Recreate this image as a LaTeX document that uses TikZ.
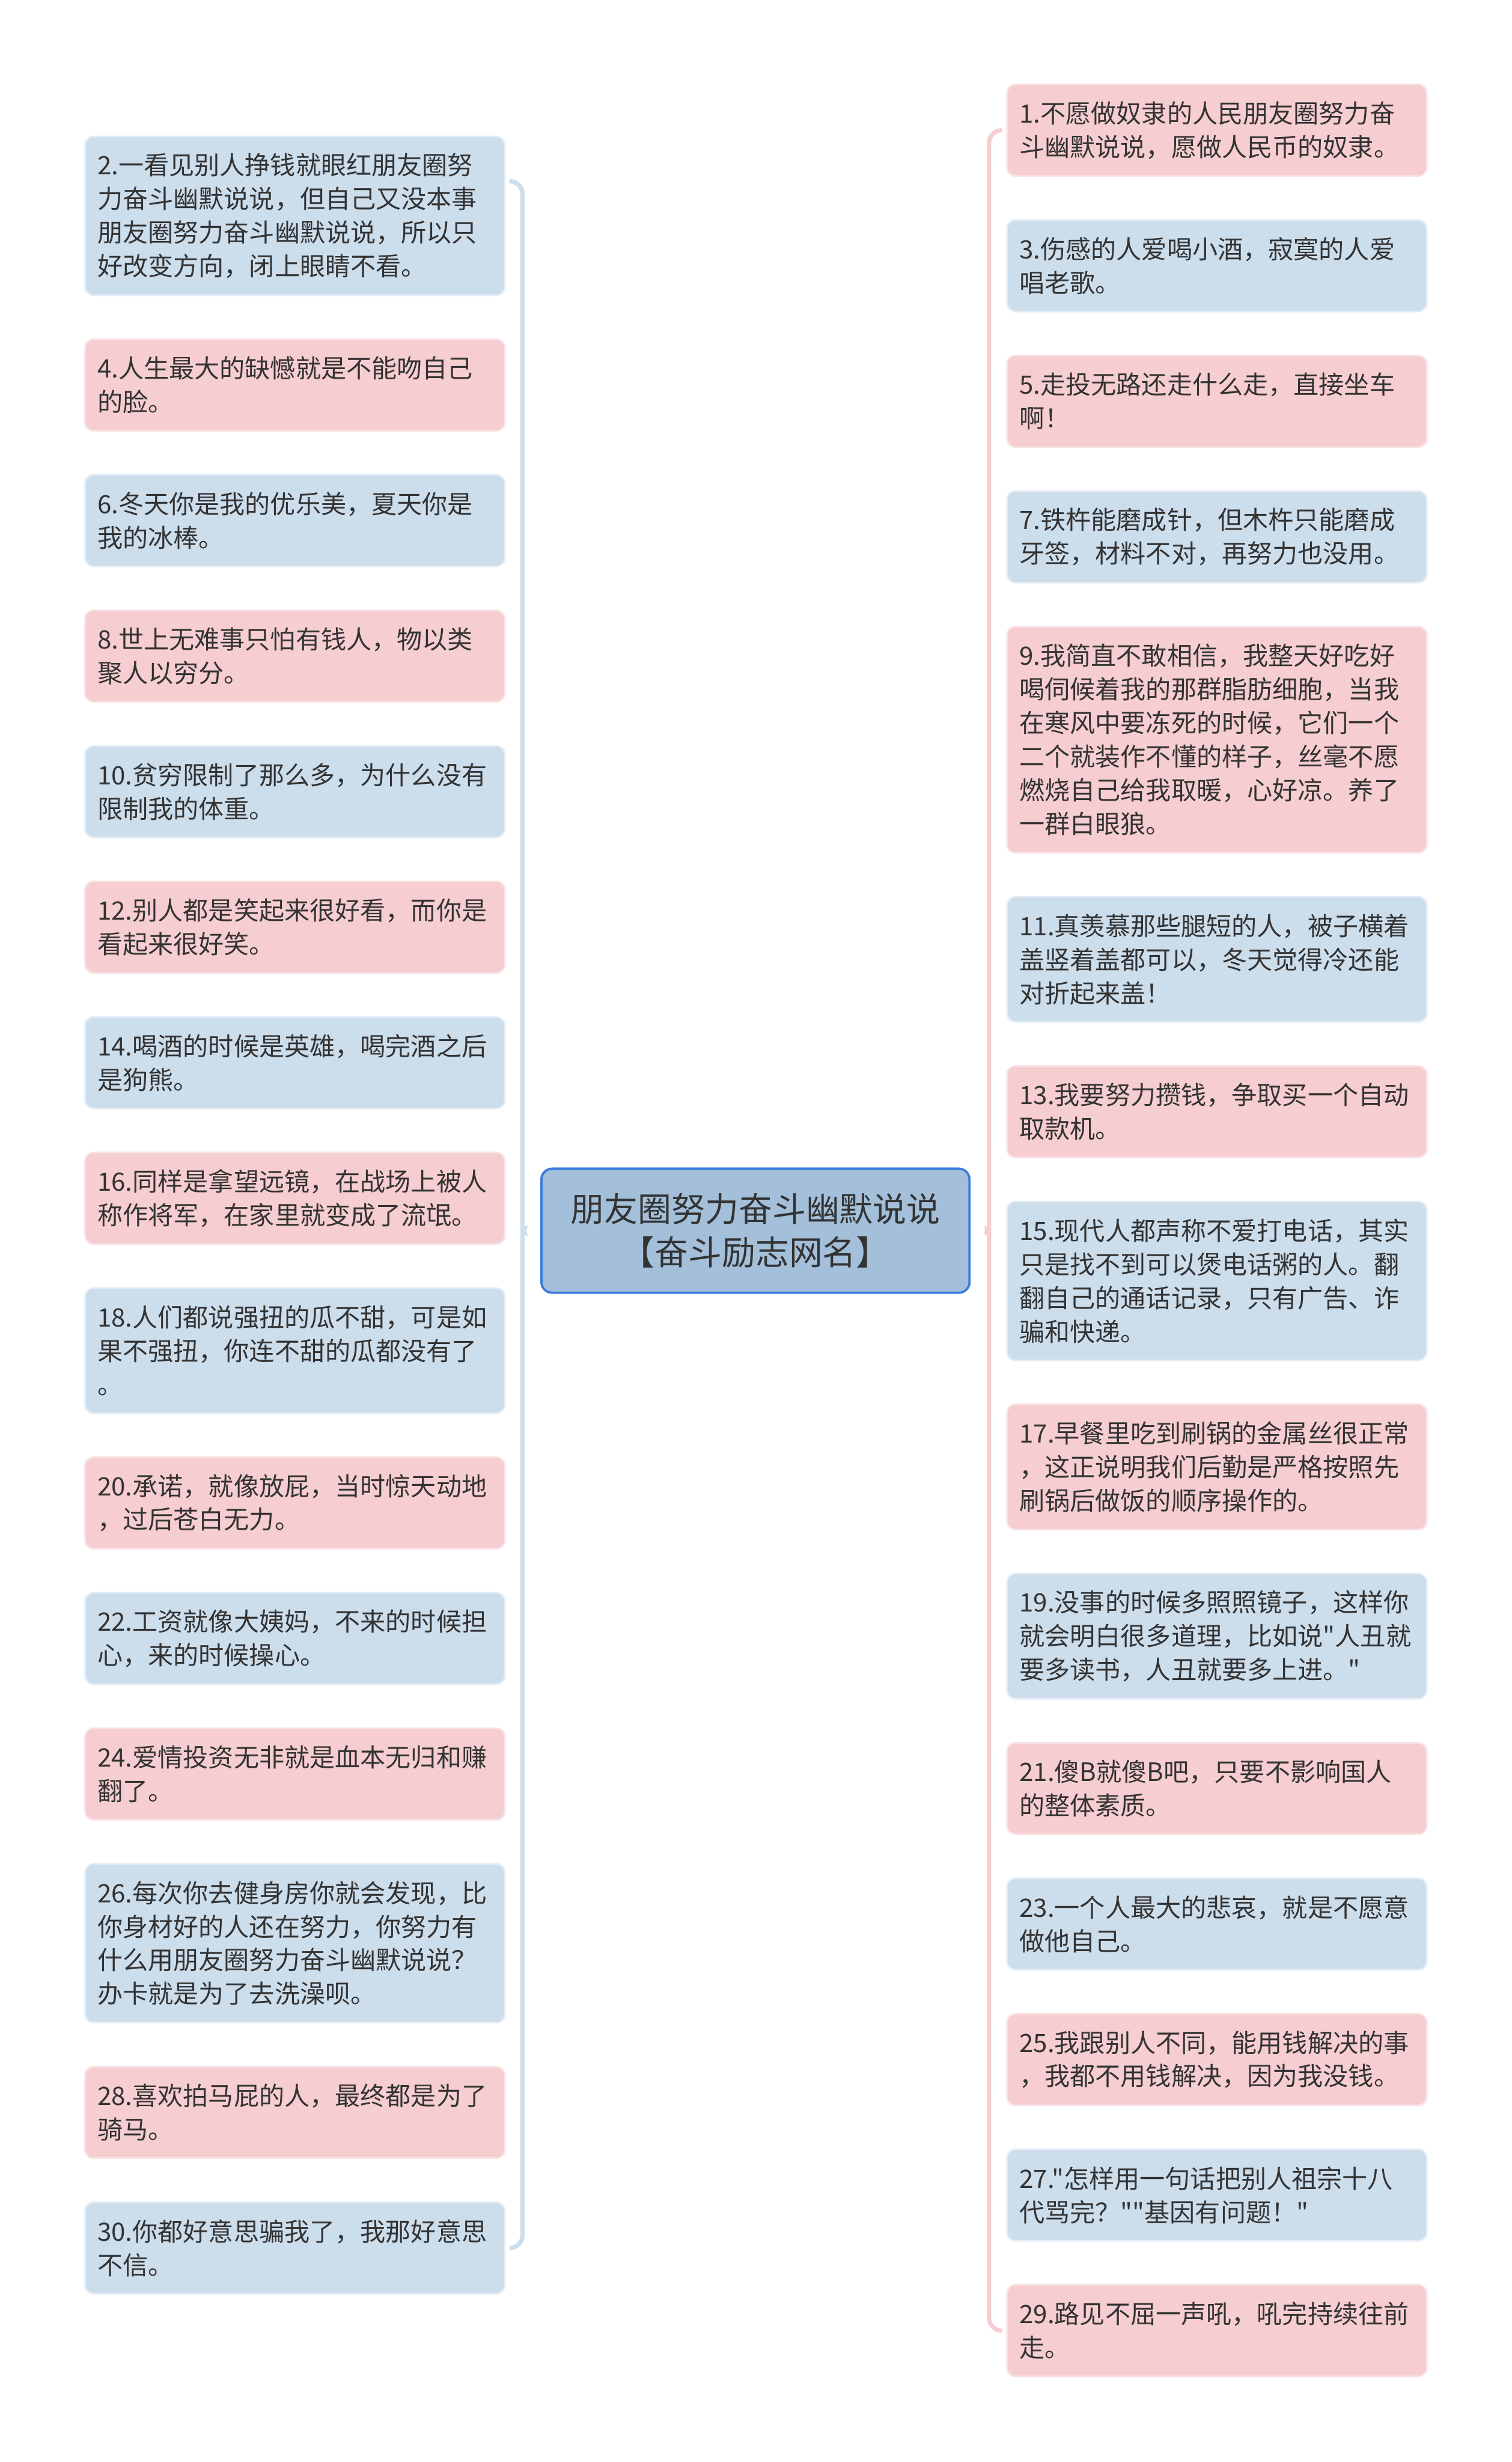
\documentclass[tikz,border=0pt]{standalone}
\usepackage{fontspec}
\usepackage{tikz}
\usetikzlibrary{positioning}
\newfontfamily\cjkfont{Noto Sans CJK SC}
\definecolor{pinkFill}{RGB}{246, 205, 208}
\definecolor{pinkLine}{RGB}{248, 226, 228}
\definecolor{blueFill}{RGB}{204, 221, 236}
\definecolor{blueLine}{RGB}{228, 237, 246}
\definecolor{topicFill}{RGB}{163, 191, 218}
\definecolor{topicLine}{RGB}{58, 124, 220}
\definecolor{textGray}{RGB}{51, 51, 51}
\newcommand{\itemfont}{\cjkfont\fontsize{12.2pt}{16.2pt}\selectfont}
\newcommand{\topicfont}{\cjkfont\fontsize{16.2pt}{20.8pt}\selectfont}

\begin{document}
\begin{tikzpicture}[
    item/.style={
        rectangle,
        rounded corners=1.5mm,
        text width=6.69cm,
        inner xsep=2.1mm,
        inner ysep=0pt,
        outer sep=0pt,
        align=left,
        minimum height={(0.41+0.57*#1)*1cm},
        line width=0.8pt,
        font=\itemfont,
        text=textGray
    },
    pinkitem/.style={item=#1, fill=pinkFill, draw=pinkLine},
    blueitem/.style={item=#1, fill=blueFill, draw=blueLine},
    topic/.style={
        rectangle,
        rounded corners=1.8mm,
        fill=topicFill,
        draw=topicLine,
        line width=1.1pt,
        minimum width=7.25cm,
        minimum height=2.1cm,
        align=center,
        font=\topicfont,
        text=textGray
    },
    leftbrace/.style={draw=blueFill, line width=2.1pt, rounded corners=2.2mm},
    rightbrace/.style={draw=pinkFill, line width=2.1pt, rounded corners=2.2mm}
]
    \useasboundingbox (0,0) rectangle (25.6,-41.69);

    % Root
    \node[topic] (root) at (12.795,-20.84) {朋友圈努力奋斗幽默说说\\【奋斗励志网名】};

    % Left column
    \node[blueitem=4, anchor=north] (l2) at (4.995,-2.31) {2.一看见别人挣钱就眼红朋友圈努\\力奋斗幽默说说，但自己又没本事\\朋友圈努力奋斗幽默说说，所以只\\好改变方向，闭上眼睛不看。};
    \node[pinkitem=2, below=7.45mm of l2] (l4) {4.人生最大的缺憾就是不能吻自己\\的脸。};
    \node[blueitem=2, below=7.45mm of l4] (l6) {6.冬天你是我的优乐美，夏天你是\\我的冰棒。};
    \node[pinkitem=2, below=7.45mm of l6] (l8) {8.世上无难事只怕有钱人，物以类\\聚人以穷分。};
    \node[blueitem=2, below=7.45mm of l8] (l10) {10.贫穷限制了那么多，为什么没有\\限制我的体重。};
    \node[pinkitem=2, below=7.45mm of l10] (l12) {12.别人都是笑起来很好看，而你是\\看起来很好笑。};
    \node[blueitem=2, below=7.45mm of l12] (l14) {14.喝酒的时候是英雄，喝完酒之后\\是狗熊。};
    \node[pinkitem=2, below=7.45mm of l14] (l16) {16.同样是拿望远镜，在战场上被人\\称作将军，在家里就变成了流氓。};
    \node[blueitem=3, below=7.45mm of l16] (l18) {18.人们都说强扭的瓜不甜，可是如\\果不强扭，你连不甜的瓜都没有了\\。};
    \node[pinkitem=2, below=7.45mm of l18] (l20) {20.承诺，就像放屁，当时惊天动地\\，过后苍白无力。};
    \node[blueitem=2, below=7.45mm of l20] (l22) {22.工资就像大姨妈，不来的时候担\\心，来的时候操心。};
    \node[pinkitem=2, below=7.45mm of l22] (l24) {24.爱情投资无非就是血本无归和赚\\翻了。};
    \node[blueitem=4, below=7.45mm of l24] (l26) {26.每次你去健身房你就会发现，比\\你身材好的人还在努力，你努力有\\什么用朋友圈努力奋斗幽默说说？\\办卡就是为了去洗澡呗。};
    \node[pinkitem=2, below=7.45mm of l26] (l28) {28.喜欢拍马屁的人，最终都是为了\\骑马。};
    \node[blueitem=2, below=7.45mm of l28] (l30) {30.你都好意思骗我了，我那好意思\\不信。};

    % Right column
    \node[pinkitem=2, anchor=north] (r1) at (20.61,-1.43) {1.不愿做奴隶的人民朋友圈努力奋\\斗幽默说说，愿做人民币的奴隶。};
    \node[blueitem=2, below=7.45mm of r1] (r3) {3.伤感的人爱喝小酒，寂寞的人爱\\唱老歌。};
    \node[pinkitem=2, below=7.45mm of r3] (r5) {5.走投无路还走什么走，直接坐车\\啊！};
    \node[blueitem=2, below=7.45mm of r5] (r7) {7.铁杵能磨成针，但木杵只能磨成\\牙签，材料不对，再努力也没用。};
    \node[pinkitem=6, below=7.45mm of r7] (r9) {9.我简直不敢相信，我整天好吃好\\喝伺候着我的那群脂肪细胞，当我\\在寒风中要冻死的时候，它们一个\\二个就装作不懂的样子，丝毫不愿\\燃烧自己给我取暖，心好凉。养了\\一群白眼狼。};
    \node[blueitem=3, below=7.45mm of r9] (r11) {11.真羡慕那些腿短的人，被子横着\\盖竖着盖都可以，冬天觉得冷还能\\对折起来盖！};
    \node[pinkitem=2, below=7.45mm of r11] (r13) {13.我要努力攒钱，争取买一个自动\\取款机。};
    \node[blueitem=4, below=7.45mm of r13] (r15) {15.现代人都声称不爱打电话，其实\\只是找不到可以煲电话粥的人。翻\\翻自己的通话记录，只有广告、诈\\骗和快递。};
    \node[pinkitem=3, below=7.45mm of r15] (r17) {17.早餐里吃到刷锅的金属丝很正常\\，这正说明我们后勤是严格按照先\\刷锅后做饭的顺序操作的。};
    \node[blueitem=3, below=7.45mm of r17] (r19) {19.没事的时候多照照镜子，这样你\\就会明白很多道理，比如说"人丑就\\要多读书，人丑就要多上进。"};
    \node[pinkitem=2, below=7.45mm of r19] (r21) {21.傻B就傻B吧，只要不影响国人\\的整体素质。};
    \node[blueitem=2, below=7.45mm of r21] (r23) {23.一个人最大的悲哀，就是不愿意\\做他自己。};
    \node[pinkitem=2, below=7.45mm of r23] (r25) {25.我跟别人不同，能用钱解决的事\\，我都不用钱解决，因为我没钱。};
    \node[blueitem=2, below=7.45mm of r25] (r27) {27."怎样用一句话把别人祖宗十八\\代骂完？""基因有问题！"};
    \node[pinkitem=2, below=7.45mm of r27] (r29) {29.路见不屈一声吼，吼完持续往前\\走。};

    % Braces
    \coordinate (ltop) at ([xshift=1.2mm,yshift=5.85mm]l2.east);
    \coordinate (lbot) at ([xshift=1.2mm]l30.east);
    \coordinate (ltip) at ([xshift=-1.1mm]root.west);
    \coordinate (lmid) at ([xshift=-1.9mm]ltip);
    \draw[leftbrace] (ltop) -| ([yshift=1.8mm]lmid) to[out=-90,in=180] (ltip)
        to[out=180,in=90] ([yshift=-1.8mm]lmid) |- (lbot);

    \coordinate (rtop) at ([xshift=-1.1mm]r1.west);
    \coordinate (rbot) at ([xshift=-1.1mm]r29.west);
    \coordinate (rtip) at ([xshift=1.1mm]root.east);
    \coordinate (rmid) at ([xshift=2mm]rtip);
    \draw[rightbrace] (rtop) -| ([yshift=1.8mm]rmid) to[out=-90,in=0] (rtip)
        to[out=0,in=90] ([yshift=-1.8mm]rmid) |- (rbot);

\end{tikzpicture}
\end{document}
